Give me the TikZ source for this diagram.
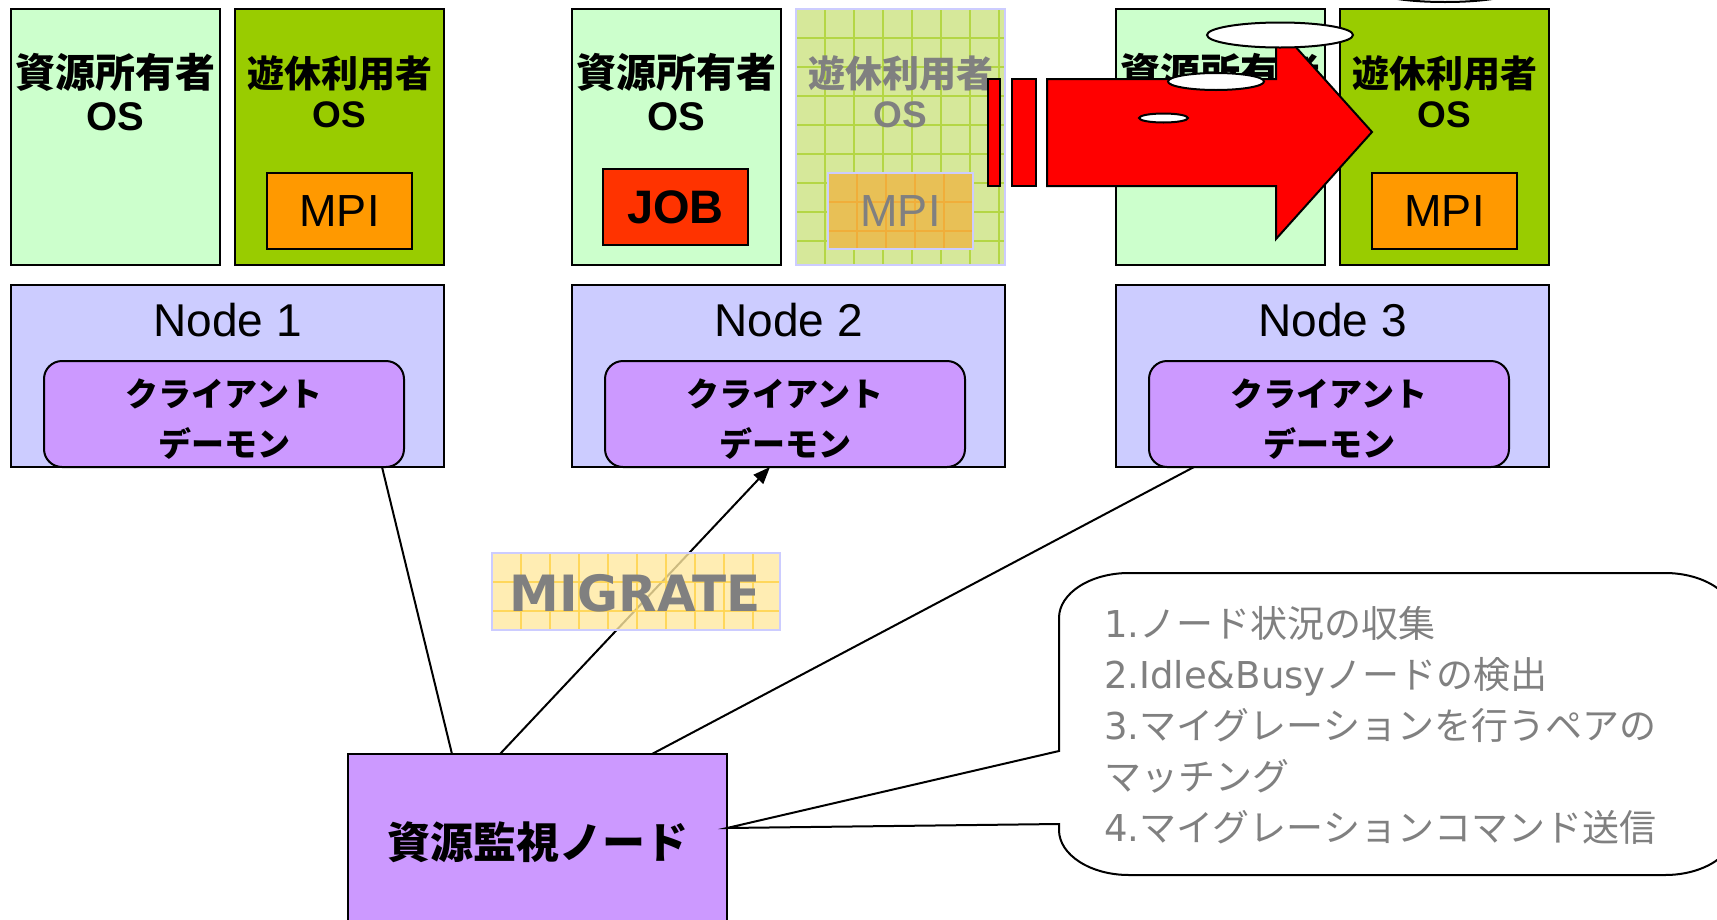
\documentclass[tikz,border=0pt]{standalone}
\usepackage{fontspec}
\setmainfont{Liberation Sans}
\newfontfamily\jp{Noto Sans CJK JP}
\newfontfamily\verd{DejaVu Sans}
\usetikzlibrary{arrows.meta}

\definecolor{ownerfill}{HTML}{CCFFCC}
\definecolor{idlefill}{HTML}{99CC00}
\definecolor{mpifill}{HTML}{FF9900}
\definecolor{nodefill}{HTML}{CCCCFF}
\definecolor{daemonfill}{HTML}{CC99FF}
\definecolor{jobfill}{HTML}{FF3300}
\definecolor{fadedgreen}{HTML}{D6E89A}
\definecolor{fadedgrid}{HTML}{B4D645}
\definecolor{fadedorange}{HTML}{E8C056}
\definecolor{fadedorgrid}{HTML}{F0AE3A}
\definecolor{migfill}{HTML}{FFE9A0}
\definecolor{miggrid}{HTML}{FFD552}
\definecolor{paleedge}{HTML}{CCCCFF}
\definecolor{textgray}{HTML}{808080}

% Latin runs of the step list are set in a Verdana-like face
\newcommand{\lat}[1]{{\verd #1}}

\begin{document}
\begin{tikzpicture}[x=1pt,y=-1pt,
  box/.style={draw=black, line width=2pt, inner sep=0pt, outer sep=0pt},
  ownerbox/.style={box, fill=ownerfill, minimum width=209pt, minimum height=256pt},
  idlebox/.style={box, fill=idlefill, minimum width=209pt, minimum height=256pt},
  fadedbox/.style={box, draw=paleedge, fill=fadedgreen, minimum width=209pt, minimum height=256pt},
  mpibox/.style={box, fill=mpifill, minimum width=145pt, minimum height=76pt},
  fadedmpi/.style={box, draw=paleedge, fill=fadedorange, minimum width=145pt, minimum height=76pt},
  jobbox/.style={box, fill=jobfill, minimum width=145pt, minimum height=76pt,
    font=\bfseries\fontsize{47}{47}\selectfont},
  nodebox/.style={box, fill=nodefill, minimum width=433pt, minimum height=182pt},
  daemonbox/.style={box, fill=daemonfill, rounded corners=18pt, minimum width=360pt, minimum height=106pt},
  monitorbox/.style={box, fill=daemonfill, minimum width=379pt, minimum height=176pt,
    font=\jp\bfseries\fontsize{43}{43}\selectfont},
  migbox/.style={box, draw=paleedge, fill=migfill, fill opacity=0.8, minimum width=288pt, minimum height=77pt},
  ownertext/.style={inner sep=0pt, font=\jp\bfseries\fontsize{40}{40}\selectfont},
  owneros/.style={inner sep=0pt, font=\bfseries\fontsize{40}{40}\selectfont},
  idletext/.style={inner sep=0pt, font=\jp\bfseries\fontsize{37}{37}\selectfont},
  idleos/.style={inner sep=0pt, font=\bfseries\fontsize{37}{37}\selectfont},
  mpitext/.style={inner sep=0pt, font=\fontsize{45}{45}\selectfont},
  labeltext/.style={inner sep=0pt, font=\fontsize{46}{46}\selectfont},
  daemontext/.style={inner sep=0pt, font=\jp\bfseries\fontsize{33}{33}\selectfont},
  conn/.style={draw=black, line width=2pt},
  redshape/.style={draw=black, line width=2pt, fill=red},
  whiteoval/.style={draw=black, line width=2pt, fill=white}
]
\useasboundingbox (0,0) rectangle (1717,919);
\clip (0,0) rectangle (1717,919);

% node frames, daemons and resource-owner partitions
\foreach \i/\dx in {1/0, 2/561, 3/1105} {
  \begin{scope}[xshift=\dx pt]
    \node[nodebox] (node\i) at (227.5,376) {};
    \node[labeltext] (node\i label) at (227.5,320) {Node \i};
    \node[daemonbox] (daemon\i) at (224,414) {};
    \node[daemontext] (daemon\i a) at (224,394) {クライアント};
    \node[daemontext] (daemon\i b) at (224,443) {デーモン};
    \node[ownerbox] (owner\i) at (115.5,137) {};
    \node[ownertext] (owner\i a) at (115.5,72) {資源所有者};
    \node[owneros] (owner\i b) at (115.5,117) {OS};
  \end{scope}
}

% idle-user partitions on node 1 and node 3
\foreach \i/\dx in {1/0, 3/1105} {
  \begin{scope}[xshift=\dx pt]
    \node[idlebox] (idle\i) at (339.5,137) {};
    \node[idletext] (idle\i a) at (339.5,73.5) {遊休利用者};
    \node[idleos] (idle\i b) at (339.5,115) {OS};
    \node[mpibox] (mpi\i) at (339.5,211) {};
    \node[mpitext] (mpi\i t) at (339.5,211) {MPI};
  \end{scope}
}

% job running on node 2
\node[jobbox] (job2) at (675.5,207) {JOB};

% vacated idle-user partition on node 2
\node[fadedbox] (idle2) at (900.5,137) {};
\foreach \k in {1,...,7} \draw[fadedgrid, line width=1.3pt] (796+29*\k,10) -- (796+29*\k,264);
\foreach \k in {1,...,8} \draw[fadedgrid, line width=1.3pt] (797,9+29*\k) -- (1004,9+29*\k);
\node[fadedmpi] (mpi2) at (900.5,211) {};
\foreach \k in {1,...,4} \draw[fadedorgrid, line width=1.3pt] (828+29*\k,174) -- (828+29*\k,248);
\foreach \k in {1,2} \draw[fadedorgrid, line width=1.3pt] (829,173+29*\k) -- (972,173+29*\k);
\node[idletext, text=textgray] (idle2a) at (900.5,73.5) {遊休利用者};
\node[idleos, text=textgray] (idle2b) at (900.5,115) {OS};
\node[mpitext, text=textgray] (mpi2t) at (900.5,211) {MPI};

% migration arrow
\path[redshape] (988,79) rectangle (1000,186);
\path[redshape] (1012,79) rectangle (1036,186);
\path[redshape] (1047,79) -- (1276,79) -- (1276,25) -- (1372,132) -- (1276,239)
  -- (1276,186) -- (1047,186) -- cycle;
\path[whiteoval] (1445,-10.5) ellipse [x radius=73, y radius=12.5];
\path[whiteoval] (1280,35) ellipse [x radius=73, y radius=12.5];
\path[whiteoval] (1216,81.5) ellipse [x radius=48, y radius=8.5];
\path[whiteoval] (1163.5,118) ellipse [x radius=24.5, y radius=4.5];

% resource monitor
\node[monitorbox] (monitor) at (537.5,842) {資源監視ノード};

\draw[conn] ([xshift=154.5pt]node1.south) -- ([xshift=-85.5pt]monitor.north);
\draw[conn, -{Triangle[length=17pt, width=13pt]}] ([xshift=-37.5pt]monitor.north) -- ([xshift=-15pt]daemon2.south);
\draw[conn] ([xshift=114.5pt]monitor.north) -- ([xshift=-138.5pt]node3.south);

% MIGRATE label
\node[migbox] (migrate) at (636,591.5) {};
\begin{scope}[opacity=0.9]
\foreach \k in {1,...,9} \draw[miggrid, line width=1.3pt] (492+29*\k,554) -- (492+29*\k,629);
\foreach \k in {1,2} \draw[miggrid, line width=1.3pt] (493,553+29*\k) -- (779,553+29*\k);
\end{scope}
\node[inner sep=0pt, text=textgray, font=\verd\bfseries\fontsize{50}{50}\selectfont] (migratetext) at (635,593) {MIGRATE};

% callout with the monitor's duties
\coordinate (tip) at ([yshift=14pt]monitor.east);
\draw[line width=2pt, fill=white] (1059,618) -- (1059,751) -- (tip) -- (1059,824) -- (1059,830)
  arc[start angle=180, end angle=90, x radius=70, y radius=45] -- (1665,875)
  arc[start angle=90, end angle=0, x radius=70, y radius=45] -- (1735,618)
  arc[start angle=0, end angle=-90, x radius=70, y radius=45] -- (1129,573)
  arc[start angle=-90, end angle=-180, x radius=70, y radius=45] -- cycle;
\node[anchor=west, align=left, inner sep=0pt, text=textgray,
  font=\jp\fontsize{37}{51}\selectfont] (steps) at (1104,725)
  {\lat{1.}ノード状況の収集\\\lat{2.Idle\&Busy}ノードの検出\\\lat{3.}マイグレーションを行うペアの\\マッチング\\\lat{4.}マイグレーションコマンド送信};
\end{tikzpicture}
\end{document}
